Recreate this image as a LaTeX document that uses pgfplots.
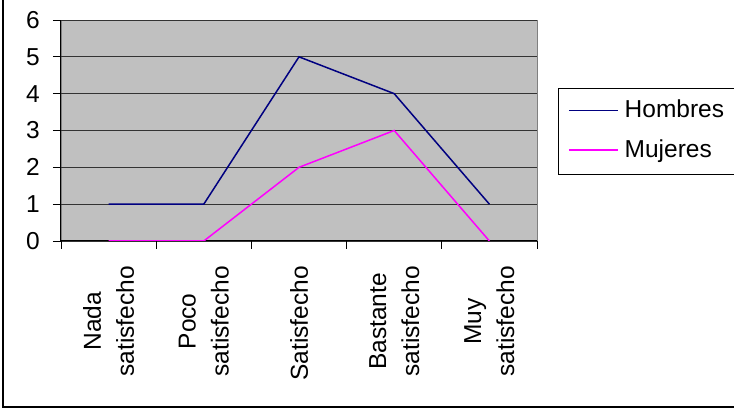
\documentclass[border=0pt]{standalone}
\usepackage{pgfplots}
\pgfplotsset{compat=1.18}
\usepackage{fontspec}
\setmainfont{Liberation Sans}
\definecolor{plotgray}{HTML}{C0C0C0}
\definecolor{hom}{HTML}{000080}
\definecolor{muj}{HTML}{FF00FF}
\begin{document}
\begin{tikzpicture}[x=1pt,y=1pt]
\useasboundingbox (0,0) rectangle (734,409);
\draw[line width=2pt] (3,409) -- (3,1.5) -- (734,1.5);
\draw[line width=1pt, fill=white] (558,320) rectangle (745,234);
\begin{axis}[
  at={(61pt,168pt)}, anchor=south west,
  scale only axis, width=476pt, height=221pt,
  xmin=0, xmax=5, ymin=0, ymax=6,
  axis background/.style={fill=plotgray, draw=black!50},
  separate axis lines,
  axis x line*=bottom, axis y line*=left,
  axis line style={black, line width=1pt},
  tick style={black, line width=0.8pt},
  tick align=outside, major tick length=8pt,
  ytick={0,1,2,3,4,5,6},
  ymajorgrids, major grid style={black!80, line width=0.8pt},
  xtick={0,1,2,3,4,5},
  x tick label as interval,
  xticklabels={{Nada\\satisfecho},{Poco\\satisfecho},{Satisfecho},{Bastante\\satisfecho},{Muy\\satisfecho},{}},
  xticklabel style={rotate=90, anchor=east, align=center, inner sep=0pt, font=\fontsize{24.5}{33}\selectfont},
  yticklabel style={inner sep=0pt, font=\fontsize{24.5}{29}\selectfont},
  xticklabel shift=17pt,
  yticklabel shift=13pt,
  /pgf/number format/assume math mode=true,
  legend image code/.code={\draw[#1] (0pt,1pt) -- (49pt,1pt);},
  legend style={draw=none, fill=none, at={(1.0441,0.673)}, anchor=north west,
    inner xsep=10pt, inner ysep=8pt, row sep=17pt,
    nodes={inner sep=0pt, font=\fontsize{24.5}{29}\selectfont, text height=17.5pt, text depth=5pt},
    /tikz/every odd column/.style={column sep=6pt}},
  legend cell align=left,
]
\addplot[hom, line width=1.5pt] coordinates {(0.5,1) (1.5,1) (2.5,5) (3.5,4) (4.5,1)};
\addlegendentry{Hombres}
\addplot[muj, line width=1.5pt] coordinates {(0.5,0) (1.5,0) (2.5,2) (3.5,3) (4.5,0)};
\addlegendentry{Mujeres}
\end{axis}
\end{tikzpicture}
\end{document}
